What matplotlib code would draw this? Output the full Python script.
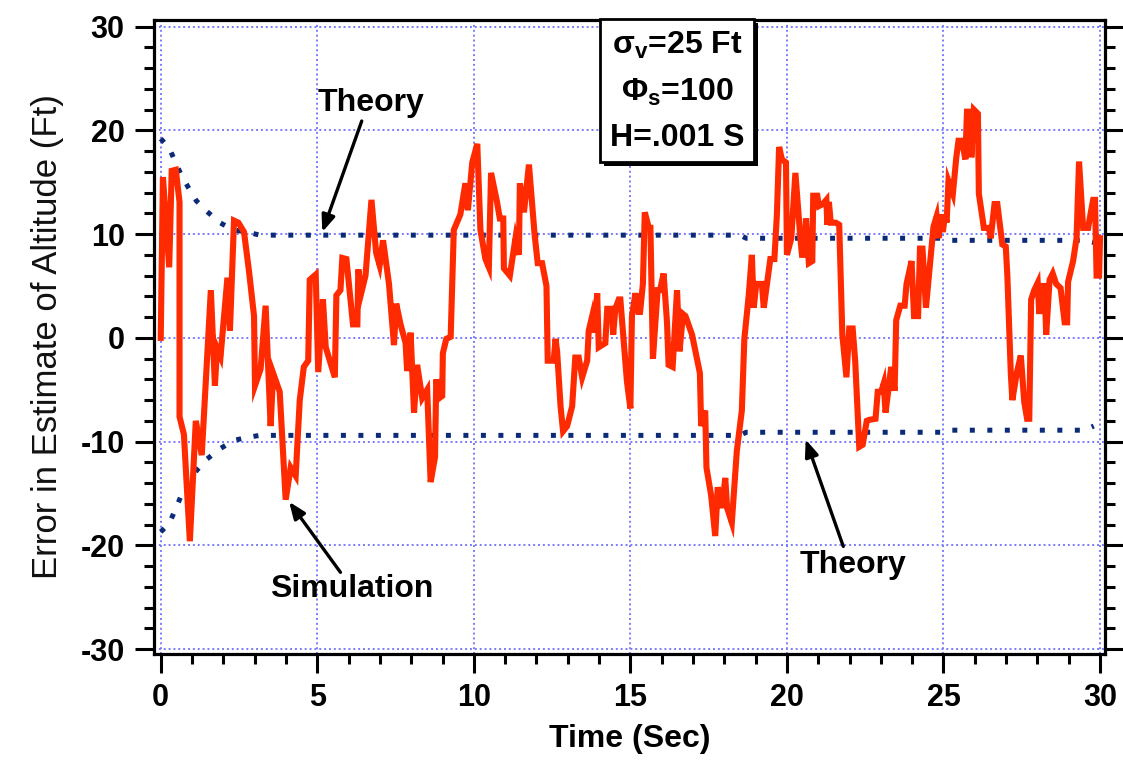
import matplotlib
matplotlib.use("Agg")
import matplotlib.pyplot as plt
import matplotlib.patheffects as pe
from matplotlib.ticker import MultipleLocator
import numpy as np

plt.rcParams['font.family'] = ['Liberation Sans', 'DejaVu Sans']
plt.rcParams['axes.unicode_minus'] = False
plt.rcParams['mathtext.fontset'] = 'custom'
plt.rcParams['mathtext.bf'] = 'Liberation Sans:bold'
plt.rcParams['mathtext.rm'] = 'Liberation Sans:bold'

# Simulation: error in altitude estimate (Ft)
sim_t = [0.0, 0.07, 0.27, 0.35, 0.48, 0.6, 0.6, 0.74, 0.93, 1.12, 1.31, 1.6, 1.73, 1.8, 1.91,
         2.13, 2.21, 2.34, 2.48, 2.66, 2.82, 2.98, 3.01, 3.19, 3.35, 3.51, 3.59, 3.8, 3.99,
         4.15, 4.31, 4.44, 4.57, 4.71, 4.76, 4.95, 5.03, 5.18, 5.27, 5.56, 5.61, 5.74, 5.8,
         5.93, 6.14, 6.28, 6.31, 6.41, 6.54, 6.73, 6.88, 6.99, 7.1, 7.29, 7.45, 7.52, 7.66,
         7.82, 7.87, 7.98, 8.09, 8.19, 8.35, 8.51, 8.62, 8.76, 8.8, 8.9, 8.99, 9.01, 9.12,
         9.26, 9.36, 9.57, 9.73, 9.81, 9.95, 10.11, 10.21, 10.37, 10.48, 10.55, 10.74, 10.83,
         10.94, 10.96, 11.15, 11.33, 11.44, 11.47, 11.6, 11.76, 11.94, 12.04, 12.18, 12.32,
         12.36, 12.55, 12.61, 12.66, 12.77, 12.85, 12.98, 13.14, 13.24, 13.35, 13.46, 13.62,
         13.67, 13.78, 13.85, 13.94, 13.99, 14.2, 14.26, 14.41, 14.45, 14.52, 14.63, 14.68,
         14.89, 15.0, 15.05, 15.16, 15.26, 15.31, 15.4, 15.46, 15.59, 15.64, 15.72, 15.87,
         15.95, 16.06, 16.17, 16.22, 16.35, 16.49, 16.57, 16.68, 16.76, 16.97, 17.22, 17.26,
         17.39, 17.43, 17.58, 17.71, 17.79, 17.93, 18.03, 18.09, 18.24, 18.4, 18.56, 18.64,
         18.78, 18.88, 18.94, 19.02, 19.2, 19.26, 19.47, 19.6, 19.68, 19.75, 19.84, 19.97,
         20.0, 20.14, 20.27, 20.43, 20.48, 20.56, 20.61, 20.7, 20.81, 20.84, 20.97, 21.02,
         21.15, 21.26, 21.29, 21.34, 21.4, 21.56, 21.67, 21.77, 21.9, 21.99, 22.1, 22.18,
         22.31, 22.42, 22.55, 22.63, 22.83, 22.9, 23.01, 23.09, 23.15, 23.33, 23.44, 23.49,
         23.62, 23.76, 23.82, 23.98, 24.06, 24.19, 24.25, 24.33, 24.44, 24.68, 24.78, 24.84,
         24.89, 24.98, 25.05, 25.1, 25.16, 25.3, 25.41, 25.48, 25.59, 25.7, 25.75, 25.86,
         25.89, 25.97, 26.1, 26.13, 26.29, 26.45, 26.51, 26.63, 26.72, 26.88, 26.99, 27.04,
         27.15, 27.2, 27.34, 27.47, 27.58, 27.67, 27.74, 27.8, 27.9, 28.01, 28.06, 28.12,
         28.23, 28.28, 28.39, 28.49, 28.6, 28.74, 28.87, 28.95, 28.98, 29.14, 29.25, 29.33,
         29.46, 29.62, 29.7, 29.78, 29.84, 29.89, 29.97, 30.0]
sim_err = [0.0, 15.5, 6.8, 16.1, 16.2, 13.1, -7.6, -9.3, -19.6, -8.0, -11.3, 4.6, -4.6, -1.0, -1.8,
           5.8, 0.7, 11.3, 11.1, 10.2, 6.4, 2.1, -4.6, -3.0, 3.1, -8.5, -3.4, -5.2, -15.6,
           -12.5, -13.3, -6.0, -2.8, -2.2, 5.6, 6.1, -3.3, 3.7, -0.9, -3.8, 4.1, 4.6, 7.7,
           7.6, 1.3, 1.3, 6.6, 4.4, 6.0, 13.3, 8.2, 7.0, 9.4, 5.2, -0.7, 3.3, 1.3,
           -0.5, -3.2, 0.5, -7.2, -2.6, -5.8, -5.0, -13.9, -11.5, -4.0, -5.8, -5.6, -1.5, -0.1,
           0.1, 10.4, 11.9, 14.9, 12.3, 16.9, 18.7, 10.4, 7.6, 6.8, 15.9, 13.1, 11.5,
           11.5, 6.7, 6.0, 9.6, 8.0, 14.9, 12.1, 16.7, 10.0, 7.2, 7.2, 5.0,
           -2.2, -2.2, -0.1, -1.3, -6.6, -9.0, -8.5, -6.6, -1.9, -1.9, -3.8, -2.2,
           0.7, 2.1, 0.5, 4.3, -0.9, -0.5, 2.8, 2.8, 0.3, 2.8, 3.7, 3.7,
           -4.2, -6.8, 2.1, 4.3, 2.5, 2.5, 5.2, 12.1, 10.6, 10.6, -2.0, 4.6,
           4.6, 6.2, 1.5, -2.6, -2.8, 4.6, -1.3, 2.3, 2.1, 0.3, -3.4, -8.5,
           -7.0, -12.5, -15.2, -19.1, -14.4, -16.4, -13.5, -16.4, -17.8, -10.9, -7.0, -0.1,
           4.1, 8.0, 2.9, 5.2, 5.2, 2.9, 7.6, 7.6, 11.9, 18.4, 17.2, 16.9,
           8.0, 9.6, 15.9, 9.6, 8.0, 8.0, 11.5, 7.2, 7.4, 13.7, 13.7, 12.7,
           12.9, 13.3, 10.9, 13.1, 11.1, 11.1, 10.9, 0.3, -3.8, 0.9, 0.9, -2.2,
           -10.5, -10.3, -8.0, -7.9, -7.8, -5.2, -5.2, -4.4, -7.2, -2.8, -5.1, 1.7,
           3.1, 3.1, 5.2, 7.4, 2.1, 2.1, 8.6, 8.6, 2.9, 10.7, 11.7, 9.6,
           11.9, 10.2, 11.9, 11.1, 15.1, 13.9, 17.4, 19.0, 19.0, 17.2, 21.8, 21.8,
           17.4, 22.0, 21.6, 13.9, 10.6, 10.6, 9.6, 12.9, 12.9, 9.0, 8.8, 6.0,
           -3.4, -6.0, -3.4, -1.7, -6.2, -7.8, -7.8, 3.7, 4.6, 5.3, 2.3, 5.0,
           5.0, 0.3, 5.6, 6.2, 5.2, 4.8, 1.5, 1.5, 5.4, 7.4, 9.6, 17.0,
           10.6, 10.6, 12.0, 13.3, 13.3, 6.0, 6.0, 9.6]

# Theory: +/- one sigma bounds from the filter covariance
theory_t = [0.0, 0.27, 0.46, 0.64, 0.88, 1.14, 1.47, 1.89, 2.32, 2.74, 3.17, 10.0,
            18.5, 18.7, 25.0, 25.2, 29.5, 29.8]
theory_upper = [19.2, 18.3, 17.0, 15.8, 14.5, 13.2, 12.2, 11.1, 10.4, 10.2, 9.9, 9.9,
                9.9, 9.6, 9.6, 9.4, 9.4, 9.2]
theory_lower = [-18.7, -17.9, -16.6, -15.3, -14.1, -12.8, -11.7, -10.7, -9.9, -9.6, -9.4, -9.4,
                -9.4, -9.1, -9.1, -8.9, -8.9, -8.5]

fig = plt.figure(figsize=(11.23, 7.60), dpi=100)
ax = fig.add_axes([0.137, 0.1395, 0.847, 0.8345])

red = '#ff2a00'
navy = '#0b2a78'

for bound in (theory_upper, theory_lower):
    ax.plot(theory_t, bound, color=navy, linewidth=3.6, linestyle=(0, (1.0, 2.5)),
            dash_capstyle='butt', zorder=3)
ax.plot(sim_t, sim_err, color=red, linewidth=4.4, solid_joinstyle='miter', zorder=4)

ax.set_xlim(-0.22, 30.16)
ax.set_ylim(-30.47, 30.66)
ax.xaxis.set_major_locator(MultipleLocator(5))
ax.xaxis.set_minor_locator(MultipleLocator(1))
ax.yaxis.set_major_locator(MultipleLocator(10))
ax.yaxis.set_minor_locator(MultipleLocator(2))
ax.grid(True, which='major', color='#7a7aff', linestyle=(0, (1, 1.5)), linewidth=1.4)

for s in ax.spines.values():
    s.set_linewidth(2.3)
ax.tick_params(which='both', direction='out', width=2.2, top=False, right=True, left=True,
               labelright=False)
ax.tick_params(which='major', length=14, labelsize=22, pad=7)
ax.tick_params(which='minor', length=7)
for lab in ax.get_xticklabels() + ax.get_yticklabels():
    lab.set_fontweight('bold')

ax.set_xlabel('Time (Sec)', fontsize=23, fontweight='bold', labelpad=8)
ax.set_ylabel('Error in Estimate of Altitude (Ft)', fontsize=25, color='#111111', labelpad=12)

# annotations
arrow = dict(arrowstyle='-|>,head_length=1.0,head_width=0.4', color='black', lw=2.4,
             shrinkA=0, shrinkB=0)
ax.annotate('', xy=(5.16, 10.2), xytext=(6.42, 20.9), arrowprops=arrow, zorder=5)
ax.text(6.7, 22.6, 'Theory', fontsize=23, fontweight='bold', ha='center', va='center')
ax.annotate('', xy=(4.1, -15.8), xytext=(5.74, -22.6), arrowprops=arrow, zorder=5)
ax.text(6.1, -24.2, 'Simulation', fontsize=23, fontweight='bold', ha='center', va='center')
ax.annotate('', xy=(20.6, -9.8), xytext=(21.8, -20.1), arrowprops=arrow, zorder=5)
ax.text(22.1, -21.9, 'Theory', fontsize=23, fontweight='bold', ha='center', va='center')

# parameter box with drop shadow
box_txt = 'σ$_\\mathbf{v}$=25 Ft\nΦ$_\\mathbf{s}$=100\nH=.001 S'
box = ax.text(0.55, 0.985, box_txt, fontsize=23, fontweight='bold', ha='center', va='top',
              linespacing=1.65, transform=ax.transAxes, clip_on=False, zorder=6,
              bbox=dict(boxstyle='square,pad=0.3', facecolor='white', edgecolor='black', lw=2))
box.get_bbox_patch().set_path_effects([
    pe.SimplePatchShadow(offset=(3, -3), shadow_rgbFace='black', alpha=1.0),
    pe.Normal()])

fig.savefig('out.png', dpi=100)
plt.close(fig)
